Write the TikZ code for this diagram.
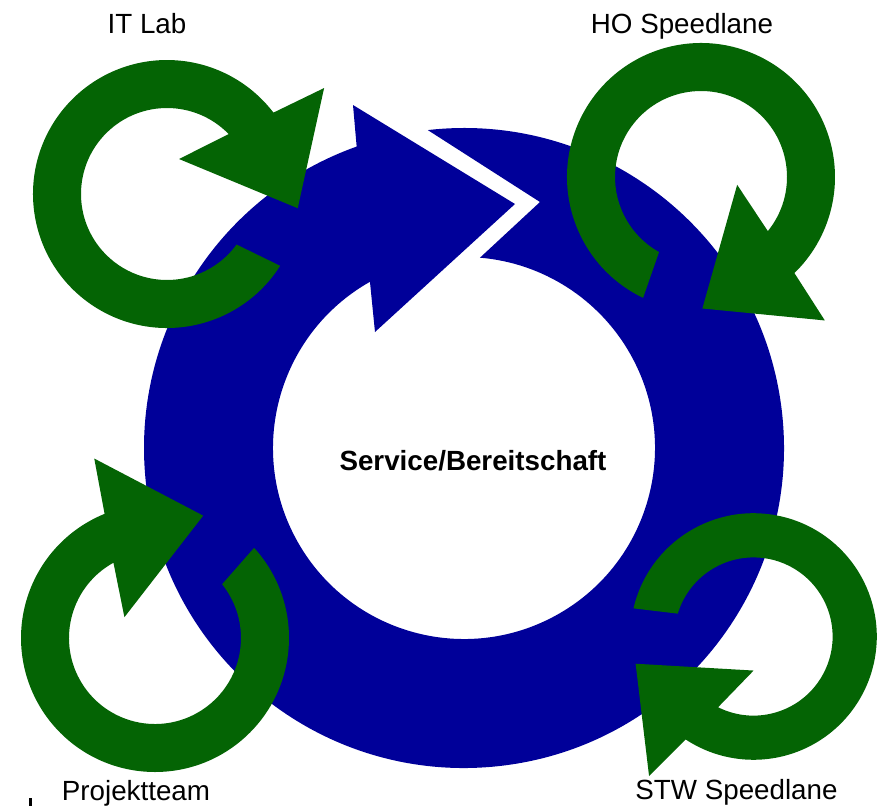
\documentclass[tikz,border=0pt]{standalone}
\usepackage{fontspec}
\setmainfont{Liberation Sans}
\usetikzlibrary{calc}

\definecolor{ringblue}{RGB}{0,0,153}
\definecolor{loopgreen}{RGB}{4,100,4}

% #1 centre, #2 turn, #3 size
\newcommand{\loopArrow}[3]{%
  \begin{scope}[shift={(#1)}, scale=#3]
    \fill[greenloop] ({#2+32.4}:134) arc[start angle={#2+32.4}, delta angle=290.2, radius=134]
      -- ({#2+326}:189.5) -- ({#2+6.2}:131.5) -- ({#2+289}:37)
      -- ({#2+315.8}:86) arc[start angle={#2+315.8}, delta angle=-279.8, radius=86] -- cycle;
  \end{scope}}

\begin{document}
\begin{tikzpicture}[x=0.02cm, y=-0.02cm]
\tikzset{
  bluering/.style={fill=ringblue},
  greenloop/.style={fill=loopgreen},
  tagtext/.style={font=\fontsize{15.8}{19}\selectfont, anchor=base, inner sep=0pt}
}
  \useasboundingbox (0,0) rectangle (883,806);

  \coordinate (o) at (464,448);
  \coordinate (itc) at (167,194);
  \coordinate (hoc) at (701,177);
  \coordinate (pjc) at (155,638);
  \coordinate (stc) at (753.5,636.5);

  % big ring
  \fill[bluering] ($(o)+(263.5:320)$) arc[start angle=263.5, end angle=610.4, radius=320]
    -- (353,105) -- (515,204) -- (375,332)
    -- ($(o)+(240.5:191)$) arc[start angle=600.5, end angle=274.8, radius=191]
    -- (540,202) -- cycle;

  % small loops
  \loopArrow{itc}{0}{1}
  \loopArrow{hoc}{83.2}{1}
  \loopArrow{pjc}{285.3}{1}
  \loopArrow{stc}{160.8}{0.92}

  \node[tagtext] (itlab) at (147,33) {IT Lab};
  \node[tagtext] (ho) at (682,33) {HO Speedlane};
  \node[tagtext, font=\fontsize{15.8}{19}\selectfont\bfseries] (service) at (473,470) {Service/Bereitschaft};
  \node[tagtext] (pj) at (136,800) {Projektteam};
  \node[tagtext] (stw) at (736.5,799) {STW Speedlane};

  \fill (28.5,798) rectangle (31.5,806);
\end{tikzpicture}
\end{document}
